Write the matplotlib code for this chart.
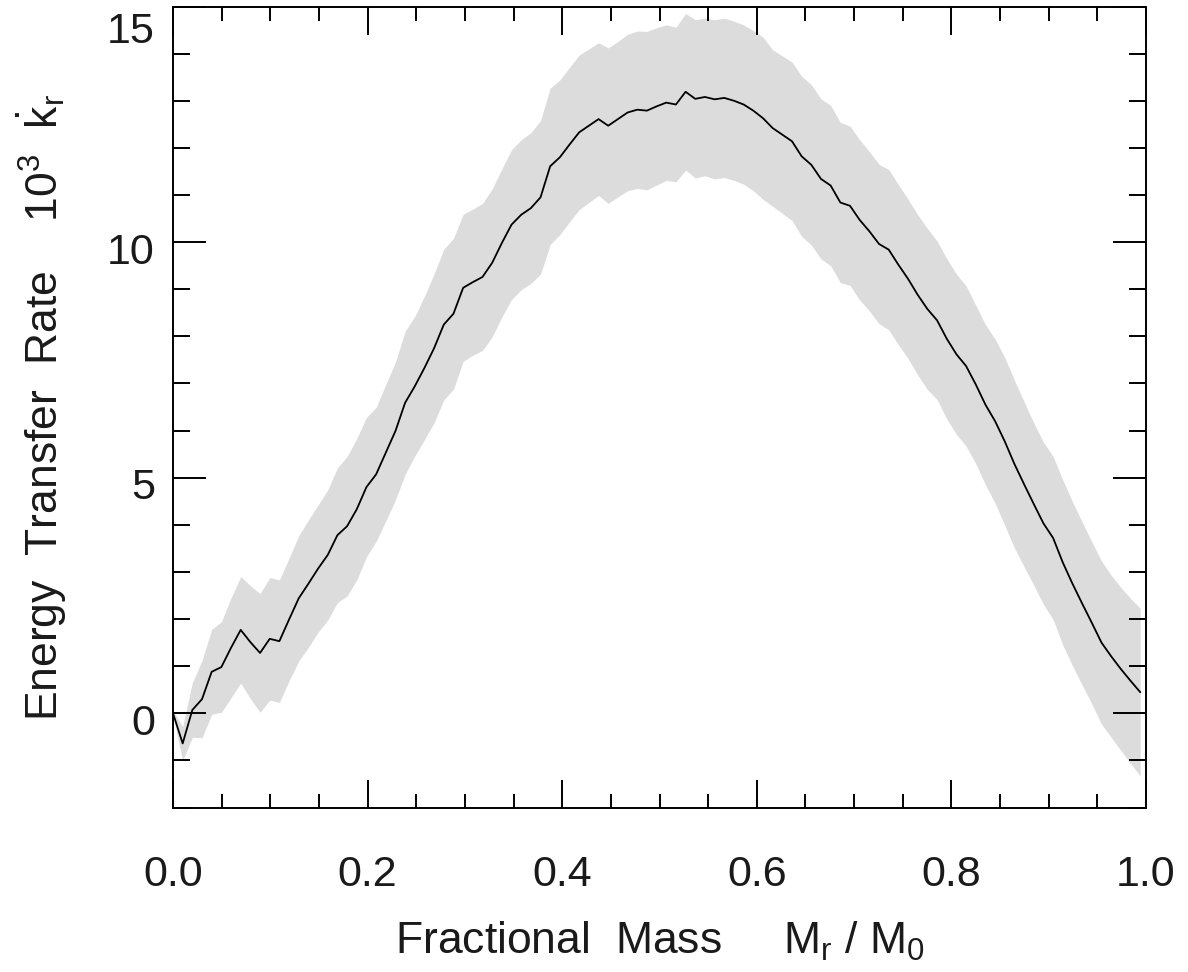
import numpy as np
import matplotlib
matplotlib.use("Agg")
import matplotlib.pyplot as plt
from matplotlib.transforms import ScaledTranslation

plt.rcParams['font.family'] = ['Liberation Sans', 'DejaVu Sans']
plt.rcParams['mathtext.fontset'] = 'custom'
plt.rcParams['mathtext.rm'] = 'Liberation Sans'
plt.rcParams['mathtext.it'] = 'Liberation Sans'
plt.rcParams['mathtext.bf'] = 'Liberation Sans:bold'

# ---- data ----
mass = np.linspace(0.0, 0.994, 101)   # fractional mass grid Mr/M0

rate = [0.00, -0.64, 0.07, 0.30, 0.88, 0.98, 1.39, 1.77, 1.51, 1.28,
        1.58, 1.53, 1.99, 2.44, 2.75, 3.07, 3.36, 3.78, 3.97, 4.33,
        4.80, 5.07, 5.53, 5.99, 6.59, 6.94, 7.33, 7.75, 8.25, 8.48,
        9.03, 9.15, 9.26, 9.56, 9.98, 10.37, 10.58, 10.72, 10.95, 11.61,
        11.80, 12.07, 12.33, 12.47, 12.61, 12.47, 12.61, 12.75, 12.81, 12.79,
        12.88, 12.96, 12.92, 13.19, 13.04, 13.08, 13.03, 13.06, 13.00, 12.92,
        12.79, 12.63, 12.42, 12.28, 12.14, 11.82, 11.64, 11.34, 11.20, 10.84,
        10.77, 10.47, 10.23, 9.96, 9.84, 9.52, 9.22, 8.88, 8.58, 8.34,
        7.95, 7.62, 7.37, 6.98, 6.55, 6.20, 5.77, 5.29, 4.86, 4.44,
        4.03, 3.72, 3.20, 2.75, 2.33, 1.92, 1.50, 1.21, 0.94, 0.69,
        0.45]

rate_err = [0.05, 0.36, 0.58, 0.82, 0.90, 0.96, 1.06, 1.13, 1.20, 1.26,
            1.30, 1.30, 1.30, 1.33, 1.35, 1.35, 1.38, 1.43, 1.48, 1.50,
            1.48, 1.42, 1.45, 1.46, 1.52, 1.48, 1.52, 1.58, 1.60, 1.60,
            1.56, 1.55, 1.56, 1.57, 1.57, 1.59, 1.59, 1.60, 1.63, 1.66,
            1.64, 1.64, 1.64, 1.63, 1.62, 1.65, 1.65, 1.66, 1.67, 1.68,
            1.67, 1.65, 1.64, 1.66, 1.68, 1.67, 1.69, 1.69, 1.69, 1.69,
            1.70, 1.72, 1.66, 1.67, 1.68, 1.70, 1.70, 1.70, 1.70, 1.70,
            1.69, 1.70, 1.69, 1.69, 1.70, 1.70, 1.69, 1.70, 1.71, 1.68,
            1.70, 1.70, 1.70, 1.68, 1.70, 1.74, 1.78, 1.78, 1.75, 1.72,
            1.72, 1.73, 1.75, 1.74, 1.73, 1.72, 1.73, 1.72, 1.73, 1.75,
            1.78]

xticks = [0.0, 0.2, 0.4, 0.6, 0.8, 1.0]
xticklabels = ['0.0', '0.2', '0.4', '0.6', '0.8', '1.0']
yticks = [0, 5, 10, 15]
yticklabels = ['0', '5', '10', '15']

# ---- figure ----
fig = plt.figure(figsize=(11.88, 9.72), dpi=100)
ax = fig.add_axes([173/1188, 1 - 807.5/972, (1146 - 173)/1188, (807.5 - 6.5)/972])

rate_a = np.array(rate)
err_a = np.array(rate_err)
ax.fill_between(mass, rate_a - err_a, rate_a + err_a, color='#dcdcdc', linewidth=0)
ax.plot(mass, rate_a, color='black', linewidth=1.3)

ax.set_xlim(0, 1.0)
ax.set_ylim(-2, 15)

ax.set_xticks(xticks)
ax.set_xticklabels(xticklabels)
ax.set_xticks(np.arange(0, 1.0001, 0.05), minor=True)
ax.set_yticks(yticks)
ax.set_yticklabels(yticklabels)
ax.set_yticks(np.arange(-2, 15.001, 1), minor=True)

for s in ax.spines.values():
    s.set_linewidth(1.4)

ax.tick_params(axis='x', which='major', direction='in', length=20, width=1.4,
               top=True, bottom=True, labelsize=31, pad=34)
ax.tick_params(axis='x', which='minor', direction='in', length=10, width=1.4,
               top=True, bottom=True)
ax.tick_params(axis='y', which='major', direction='in', length=24, width=1.4,
               left=True, right=True, labelsize=31, pad=13)
ax.tick_params(axis='y', which='minor', direction='in', length=12, width=1.4,
               left=True, right=True)

for lab in ax.get_xticklabels() + ax.get_yticklabels():
    lab.set_color('#1a1a1a')

# y tick labels sit slightly below their ticks in the reference
for val, t in zip(yticks, ax.yaxis.get_major_ticks()):
    off_px = 21 if val == 15 else 6
    t.label1.set_transform(t.label1.get_transform() +
                           ScaledTranslation(0, -off_px / 100, fig.dpi_scale_trans))

ax.set_xlabel(r'Fractional  Mass     $\mathregular{M_r\ /\ M_0}$', fontsize=32, color='#1a1a1a')
ax.xaxis.set_label_coords(0.5, -0.140)

ax.set_ylabel(r'Energy  Transfer  Rate    $\mathregular{10^3\ \ \dot{k}_r}$',
              fontsize=32, color='#1a1a1a')
ax.yaxis.set_label_coords(-0.107, 0.5)

fig.savefig('out.png', dpi=100)
